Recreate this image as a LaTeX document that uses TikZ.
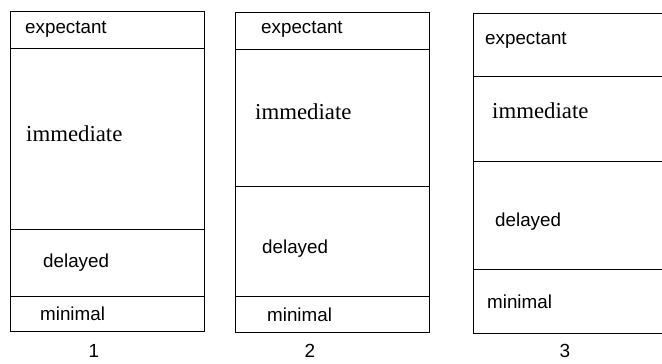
\documentclass[tikz,border=0pt]{standalone}
\usepackage{fontspec}
\setmainfont{Liberation Serif}
\setsansfont{Liberation Sans}
\begin{document}
\begin{tikzpicture}[x=1pt,y=-1pt,
  sect/.style={draw=black,line width=0.9pt},
  lab/.style={anchor=base west,inner sep=0pt,font=\sffamily\fontsize{18.8}{18.8}\selectfont},
  slab/.style={anchor=base west,inner sep=0pt,font=\rmfamily\fontsize{22.8}{22.8}\selectfont},
  num/.style={anchor=base,inner sep=0pt,font=\sffamily\fontsize{19}{19}\selectfont}]
\useasboundingbox (0,0) rectangle (662,364);
% column 1
\draw[sect] (10,11) rectangle (204,331);
\draw[sect] (10,48) -- (204,48);
\draw[sect] (10,229) -- (204,229);
\draw[sect] (10,296) -- (204,296);
\node[lab] (e1) at (25,33) {expectant};
\node[slab] (i1) at (26,141) {immediate};
\node[lab] (d1) at (43,267) {delayed};
\node[lab] (m1) at (40,320) {minimal};
\node[num] (n1) at (94,357) {1};
% column 2
\draw[sect] (235,12) rectangle (429,332);
\draw[sect] (235,49) -- (429,49);
\draw[sect] (235,186) -- (429,186);
\draw[sect] (235,296) -- (429,296);
\node[lab] (e2) at (261,33) {expectant};
\node[slab] (i2) at (255,119) {immediate};
\node[lab] (d2) at (262,253) {delayed};
\node[lab] (m2) at (267,321) {minimal};
\node[num] (n2) at (310,357) {2};
% column 3
\draw[sect] (663,13) -- (473,13) -- (473,333) -- (663,333);
\draw[sect] (473,76) -- (663,76);
\draw[sect] (473,161) -- (663,161);
\draw[sect] (473,269) -- (663,269);
\node[lab] (e3) at (485,45) {expectant};
\node[slab] (i3) at (492,118) {immediate};
\node[lab] (d3) at (495,226) {delayed};
\node[lab] (m3) at (487,308) {minimal};
\node[num] (n3) at (565,357) {3};
\end{tikzpicture}
\end{document}
